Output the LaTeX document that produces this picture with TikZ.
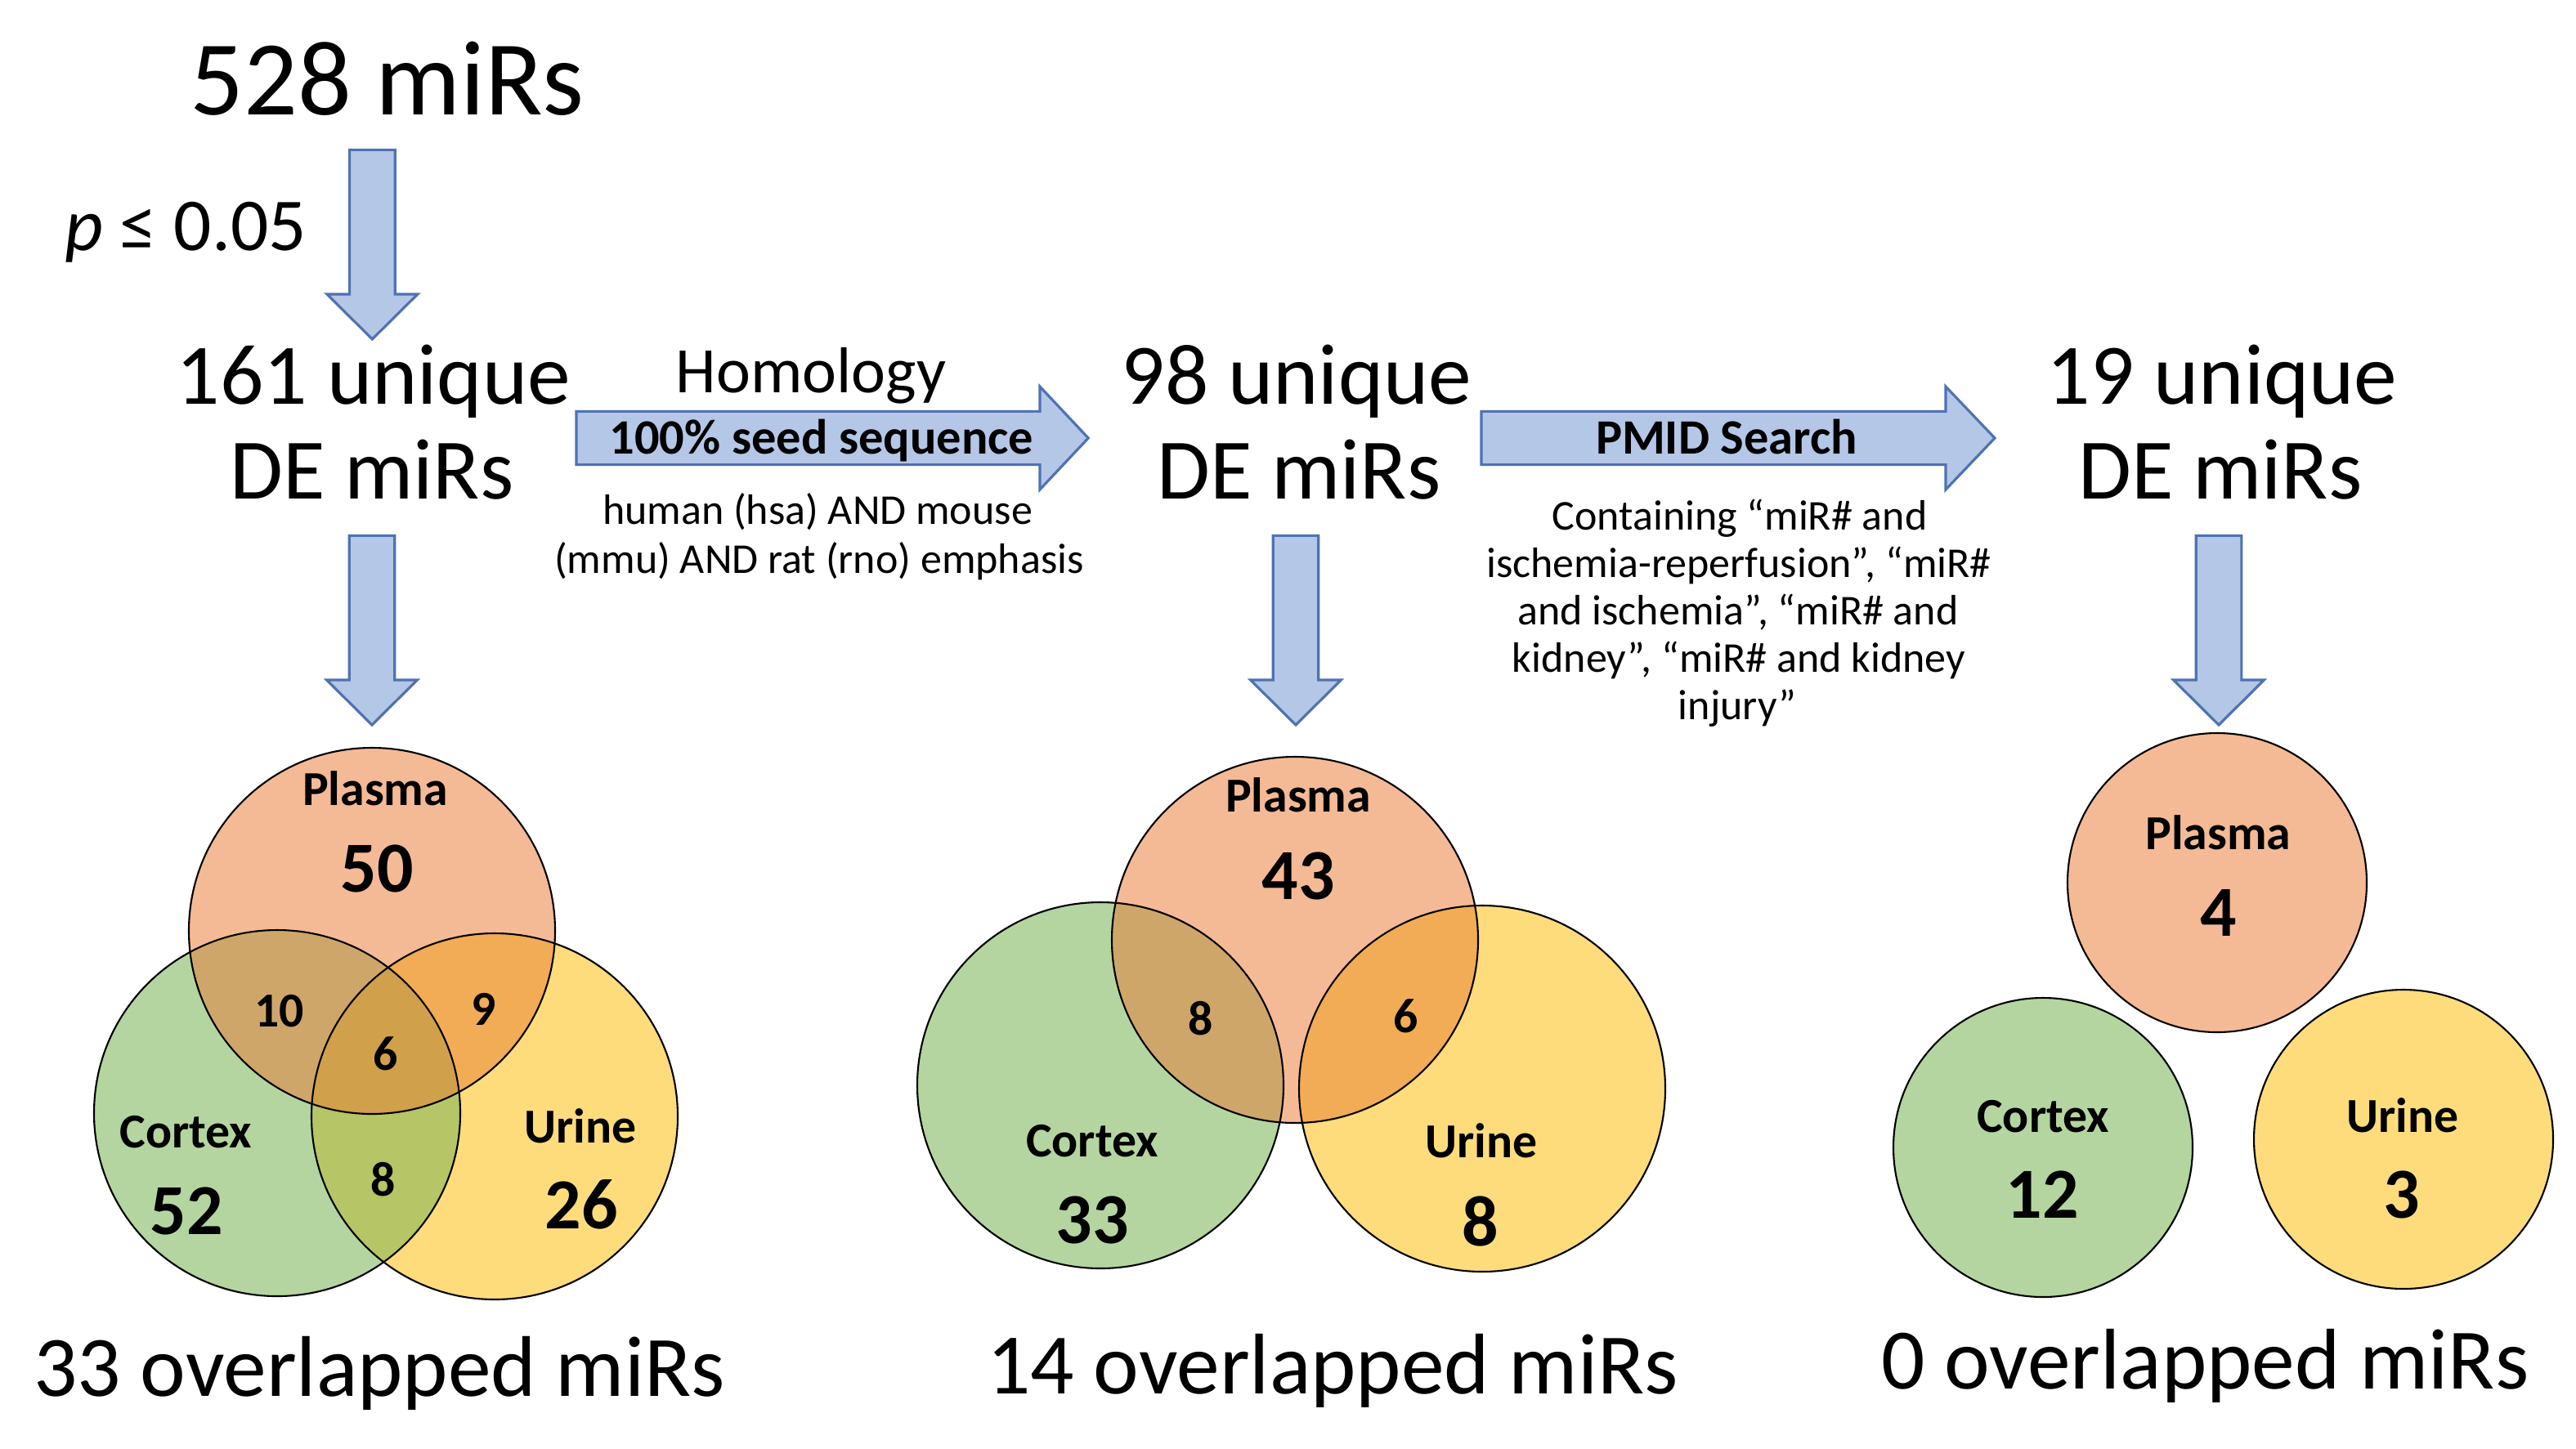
\documentclass[tikz,border=0pt]{standalone}
\usepackage{fontspec}
\setmainfont{Carlito}
\definecolor{arrfill}{HTML}{B4C7E7}
\definecolor{arrline}{HTML}{4F72B4}
\definecolor{plasmac}{HTML}{F4BA96}
\definecolor{cortexc}{HTML}{B5D5A0}
\definecolor{urinec}{HTML}{FEDC7C}
\definecolor{pcc}{HTML}{CFA66A}
\definecolor{puc}{HTML}{F2AC55}
\definecolor{cuc}{HTML}{B6C566}
\definecolor{pcuc}{HTML}{D0A04B}
\newcommand{\fs}[1]{\fontsize{#1}{#1}\selectfont}
\newcommand{\downblock}[4]{%
  \draw[blockarrow] ({#1-13.9},#2) -- ({#1+13.9},#2) -- ({#1+13.9},#3) -- ({#1+27.7},#3)
    -- (#1,#4) -- ({#1-27.7},#3) -- ({#1-13.9},#3) -- cycle;}
\newcommand{\rightblock}[3]{%
  \draw[blockarrow] (#1,251.7) -- (#2,251.7) -- (#2,236.5) -- (#3,268) -- (#2,299.5)
    -- (#2,284.3) -- (#1,284.3) -- cycle;}
\begin{document}
\begin{tikzpicture}[x=0.02cm,y=-0.02cm,
  blockarrow/.style={draw=arrline,fill=arrfill,line width=0.9pt,line join=miter},
  ring/.style={draw=black,line width=0.6pt},
  txt/.style={anchor=base,inner sep=0pt},
  toptitle/.style={txt,font=\fs{37}},
  title/.style={txt,font=\fs{30}},
  midtxt/.style={txt,font=\fs{22.6}},
  arrtxt/.style={txt,font=\bfseries\fs{17.2}},
  desc/.style={txt,font=\fs{14.8}},
  lbl/.style={txt,font=\bfseries\fs{17}},
  bignum/.style={txt,font=\bfseries\fs{25}},
  smallnum/.style={txt,font=\bfseries\fs{17}}]
\useasboundingbox (0,0) rectangle (1575.5,886);
\fill[white] (0,0) rectangle (1575.5,886);

% ---------- titles ----------
\node[toptitle] (t528) at (236.7,70) {528 miRs};
\node[txt,font=\fs{26}] (pval) at (113.5,153.3) {\textit{p} ≤ 0.05};
\node[title] (t161a) at (228.5,247) {161 unique};
\node[title] (t161b) at (227.5,305) {DE miRs};
\node[title] (t98a) at (793,247) {98 unique};
\node[title] (t98b) at (794.5,305) {DE miRs};
\node[title] (t19a) at (1359,247) {19 unique};
\node[title] (t19b) at (1358,305) {DE miRs};

% ---------- arrows ----------
\downblock{227.7}{91.7}{180}{207.5}
\downblock{227.5}{327.7}{416}{443.5}
\downblock{792.5}{327.7}{416}{443.5}
\downblock{1357}{327.7}{416}{443.5}
\rightblock{352.5}{636}{665.6}
\rightblock{906}{1190}{1220}

\node[midtxt] (homol) at (496,240) {Homology};
\node[arrtxt] (seed) at (502.5,277.7) {100\% seed sequence};
\node[desc] (hum1) at (500,320.6) {human (hsa) AND mouse};
\node[desc] (hum2) at (501,350.5) {(mmu) AND rat (rno) emphasis};

\node[arrtxt] (pmid) at (1056,277.7) {PMID Search};
\node[desc] (c1) at (1064,324) {Containing “miR\# and};
\node[desc] (c2) at (1063.5,353) {ischemia-reperfusion”, “miR\#};
\node[desc] (c3) at (1063,382) {and ischemia”, “miR\# and};
\node[desc] (c4) at (1063.5,411) {kidney”, “miR\# and kidney};
\node[desc] (c5) at (1062.5,440) {injury”};

% ---------- Venn 1 ----------
\coordinate (P1) at (227.5,569.5);
\coordinate (C1) at (169.5,681);
\coordinate (U1) at (302.5,683);
\fill[plasmac] (P1) circle (112);
\fill[cortexc] (C1) circle (112);
\fill[urinec] (U1) circle (112);
\begin{scope}\clip (P1) circle (112); \fill[pcc] (C1) circle (112); \end{scope}
\begin{scope}\clip (P1) circle (112); \fill[puc] (U1) circle (112); \end{scope}
\begin{scope}\clip (C1) circle (112); \fill[cuc] (U1) circle (112); \end{scope}
\begin{scope}\clip (P1) circle (112); \clip (C1) circle (112); \fill[pcuc] (U1) circle (112); \end{scope}
\draw[ring] (P1) circle (112);
\draw[ring] (C1) circle (112);
\draw[ring] (U1) circle (112);
\node[lbl] (v1pl) at (229.5,492.5) {Plasma};
\node[bignum] (v1pn) at (230.7,545.6) {50};
\node[smallnum] (v1pc) at (170.7,628) {10};
\node[smallnum] (v1pu) at (296,627) {9};
\node[smallnum] (v1pcu) at (235.7,654.6) {6};
\node[smallnum] (v1cu) at (234.5,731.5) {8};
\node[lbl] (v1cl) at (113.7,702) {Cortex};
\node[bignum] (v1cn) at (114,755) {52};
\node[lbl] (v1ul) at (354.8,699) {Urine};
\node[bignum] (v1un) at (355.7,751.6) {26};
\node[title] (ov1) at (232,854) {33 overlapped miRs};

% ---------- Venn 2 ----------
\coordinate (P2) at (792,575);
\coordinate (C2) at (673,664);
\coordinate (U2) at (906.5,666);
\fill[plasmac] (P2) circle (112);
\fill[cortexc] (C2) circle (112);
\fill[urinec] (U2) circle (112);
\begin{scope}\clip (P2) circle (112); \fill[pcc] (C2) circle (112); \end{scope}
\begin{scope}\clip (P2) circle (112); \fill[puc] (U2) circle (112); \end{scope}
\draw[ring] (P2) circle (112);
\draw[ring] (C2) circle (112);
\draw[ring] (U2) circle (112);
\node[lbl] (v2pl) at (794,496.7) {Plasma};
\node[bignum] (v2pn) at (794,550) {43};
\node[smallnum] (v2pc) at (734.4,633) {8};
\node[smallnum] (v2pu) at (860,631.6) {6};
\node[lbl] (v2cl) at (668,707.7) {Cortex};
\node[bignum] (v2cn) at (668,760.8) {33};
\node[lbl] (v2ul) at (906,708) {Urine};
\node[bignum] (v2un) at (905.5,762) {8};
\node[title] (ov2) at (815,852.7) {14 overlapped miRs};

% ---------- Venn 3 ----------
\node[circle,ring,fill=plasmac,minimum size=183*0.02cm,inner sep=0pt] (P3) at (1356,540) {};
\node[circle,ring,fill=cortexc,minimum size=183*0.02cm,inner sep=0pt] (C3) at (1249.5,702) {};
\node[circle,ring,fill=urinec,minimum size=183*0.02cm,inner sep=0pt] (U3) at (1470,697) {};
\node[lbl] (v3pl) at (1356.7,519.7) {Plasma};
\node[bignum] (v3pn) at (1357,572.8) {4};
\node[lbl] (v3cl) at (1249.5,692.5) {Cortex};
\node[bignum] (v3cn) at (1249,745) {12};
\node[lbl] (v3ul) at (1469.5,692.5) {Urine};
\node[bignum] (v3un) at (1469,745) {3};
\node[title] (ov3) at (1348.7,849.8) {0 overlapped miRs};
\end{tikzpicture}
\end{document}
